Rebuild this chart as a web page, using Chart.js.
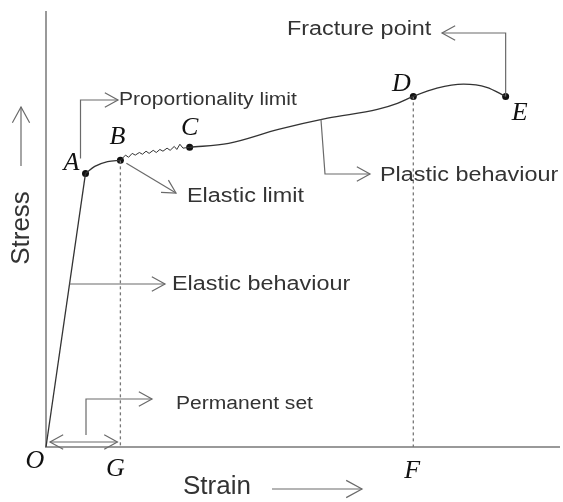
<!DOCTYPE html>
<html>
<head>
<meta charset="utf-8">
<script src="https://cdn.jsdelivr.net/npm/chart.js@4.4.1/dist/chart.umd.min.js"></script>
<style>
  html, body { margin: 0; padding: 0; background: #fff; }
  #wrap { width: 563px; height: 502px; }
</style>
</head>
<body>
<div id="wrap"><canvas id="chart" width="563" height="502"></canvas></div>
<script>
// stress-strain curve (strain 0-100, stress 0-100)
const elasticX = [0, 7.7];
const elasticY = [0, 62.9];
const yieldX = [7.7, 9.5, 12.0, 14.5];
const yieldY = [62.9, 64.5, 65.6, 65.9];
const zigX = [14.5, 15.5, 16.1, 16.8, 17.4, 18.2, 18.8, 19.5, 20.1, 20.9, 21.5, 22.2, 22.8, 23.6, 24.2, 25.0, 25.5, 26.1, 26.7, 28.0];
const zigY = [65.9, 67.1, 66.6, 67.5, 67.1, 67.7, 67.3, 68.0, 67.5, 68.2, 67.7, 68.4, 68.0, 68.7, 68.2, 69.1, 68.4, 69.6, 68.7, 68.9];
const plasticX = [28.0, 35.6, 45.3, 54.9, 64.6, 68.5, 71.6, 76.2, 81.4, 85.9, 89.6];
const plasticY = [68.9, 69.8, 73.0, 75.6, 77.6, 79.0, 80.6, 82.5, 83.4, 82.7, 80.6];
const keyLabels = ["A", "B", "C", "D", "E"];
const keyX = [7.7, 14.5, 28.0, 71.6, 89.6];
const keyY = [62.9, 65.9, 68.9, 80.6, 80.6];
const footLabels = ["O", "G", "F"];
const footX = [0, 14.5, 71.6];

const pts = (xs, ys) => xs.map((x, i) => ({ x: x, y: ys[i] }));

const lineColor = "#333";
const arrowColor = "#6a6a6a";
const textColor = "#333";

function head(ctx, tx, ty, fx, fy, len, ang) {
    const a = Math.atan2(ty - fy, tx - fx);
    ctx.beginPath();
    ctx.moveTo(tx - len * Math.cos(a - ang), ty - len * Math.sin(a - ang));
    ctx.lineTo(tx, ty);
    ctx.lineTo(tx - len * Math.cos(a + ang), ty - len * Math.sin(a + ang));
    ctx.stroke();
}

// polyline with an open arrow head at its end
function arrow(ctx, path, both, len) {
    len = len || 15;
    ctx.beginPath();
    ctx.moveTo(path[0][0], path[0][1]);
    for (let i = 1; i < path.length; i++) ctx.lineTo(path[i][0], path[i][1]);
    ctx.stroke();
    const n = path.length;
    head(ctx, path[n - 1][0], path[n - 1][1], path[n - 2][0], path[n - 2][1], len, 0.5);
    if (both) head(ctx, path[0][0], path[0][1], path[1][0], path[1][1], len, 0.5);
}

function label(ctx, txt, x, y, size) {
    ctx.save();
    ctx.translate(x, y);
    ctx.scale(1.17, 1);
    ctx.font = size + 'px "Liberation Sans", Arial, sans-serif';
    ctx.fillStyle = textColor;
    ctx.textAlign = "left";
    ctx.textBaseline = "middle";
    ctx.fillText(txt, 0, 0);
    ctx.restore();
}

function letter(ctx, txt, x, y) {
    ctx.save();
    ctx.font = 'italic 26px "Liberation Serif", "Times New Roman", serif';
    ctx.fillStyle = "#111";
    ctx.textAlign = "center";
    ctx.textBaseline = "middle";
    ctx.fillText(txt, x, y);
    ctx.restore();
}

const notes = {
    id: "notes",
    afterDatasetsDraw(chart) {
        const ctx = chart.ctx;
        const xs = chart.scales.x, ys = chart.scales.y;
        const P = (x, y) => [xs.getPixelForValue(x), ys.getPixelForValue(y)];
        const K = keyX.map((x, i) => P(x, keyY[i]));
        const O = P(0, 0);
        const G = P(footX[1], 0);

        ctx.save();
        ctx.strokeStyle = arrowColor;
        ctx.lineWidth = 1.2;
        // proportionality limit
        arrow(ctx, [[K[0][0] - 5, K[0][1] - 15], [K[0][0] - 5, 100], [118, 100]]);
        // elastic limit
        arrow(ctx, [[K[1][0] + 6, K[1][1] + 3], [176, 193]]);
        // elastic behaviour
        const ey = 284;
        const ex = O[0] + (K[0][0] - O[0]) * (O[1] - ey) / (O[1] - K[0][1]);
        arrow(ctx, [[ex, ey], [165, ey]]);
        // plastic behaviour
        const pp = P(plasticX[3] - 1.3, plasticY[3] - 0.3);
        arrow(ctx, [pp, [325, 174], [370, 174]]);
        // fracture point
        arrow(ctx, [[K[4][0], K[4][1]], [K[4][0], 33], [442, 33]]);
        // permanent set
        arrow(ctx, [[86, O[1] - 12], [86, 399], [152, 399]]);
        // O-G double arrow
        arrow(ctx, [[O[0] + 4, O[1] - 5], [G[0] - 3, O[1] - 5]], true);
        // axis direction arrows
        arrow(ctx, [[21, 166], [21, 107]], false, 18);
        arrow(ctx, [[272, 489], [362, 489]], false, 18);
        ctx.restore();

        label(ctx, "Proportionality limit", 119, 100, 18);
        label(ctx, "Elastic limit", 187, 196, 20);
        label(ctx, "Elastic behaviour", 172, 284, 20);
        label(ctx, "Plastic behaviour", 380, 175, 20);
        label(ctx, "Fracture point", 287, 29, 20);
        label(ctx, "Permanent set", 176, 404, 18);

        // axis titles
        ctx.save();
        ctx.fillStyle = textColor;
        ctx.font = '26px "Liberation Sans", Arial, sans-serif';
        ctx.textBaseline = "middle";
        ctx.textAlign = "left";
        ctx.fillText("Strain", 183, 487);
        ctx.translate(22, 228);
        ctx.rotate(-Math.PI / 2);
        ctx.textAlign = "center";
        ctx.fillText("Stress", 0, 0);
        ctx.restore();

        // point letters
        const off = [[-14, -10], [-3, -23], [0, -19], [-12, -12], [14, 17]];
        K.forEach((p, i) => letter(ctx, keyLabels[i], p[0] + off[i][0], p[1] + off[i][1]));
        const foff = [[-11, 14], [-5, 22], [-1, 24]];
        footX.forEach((x, i) => {
            const p = P(x, 0);
            letter(ctx, footLabels[i], p[0] + foff[i][0], p[1] + foff[i][1]);
        });
    }
};

const curve = { borderColor: lineColor, borderWidth: 1.3, pointRadius: 0, showLine: true, fill: false };

new Chart(document.getElementById("chart"), {
    type: "scatter",
    data: {
        datasets: [
            { ...curve, data: pts(elasticX, elasticY), tension: 0 },
            { ...curve, data: pts(yieldX, yieldY), cubicInterpolationMode: "monotone" },
            { ...curve, data: pts(zigX, zigY), borderWidth: 1, tension: 0 },
            { ...curve, data: pts(plasticX, plasticY), cubicInterpolationMode: "monotone" },
            { ...curve, data: [{ x: keyX[1], y: keyY[1] }, { x: footX[1], y: 0 }], borderColor: "#777", borderWidth: 1.3, borderDash: [3, 3] },
            { ...curve, data: [{ x: keyX[3], y: keyY[3] }, { x: footX[2], y: 0 }], borderColor: "#777", borderWidth: 1.3, borderDash: [3, 3] },
            { data: pts(keyX, keyY), showLine: false, pointRadius: 3.5, backgroundColor: "#111", borderColor: "#111", borderWidth: 0 }
        ]
    },
    options: {
        responsive: false,
        animation: false,
        devicePixelRatio: 1,
        clip: false,
        layout: { padding: { left: 38, top: 12, right: -3, bottom: 47 } },
        plugins: { legend: { display: false }, tooltip: { enabled: false } },
        scales: {
            x: { type: "linear", min: 0, max: 100, ticks: { display: false }, grid: { display: false }, border: { color: "#999", width: 2 } },
            y: { type: "linear", min: 0, max: 100, ticks: { display: false }, grid: { display: false }, border: { color: "#999", width: 2 } }
        }
    },
    plugins: [notes]
});
</script>
</body>
</html>
